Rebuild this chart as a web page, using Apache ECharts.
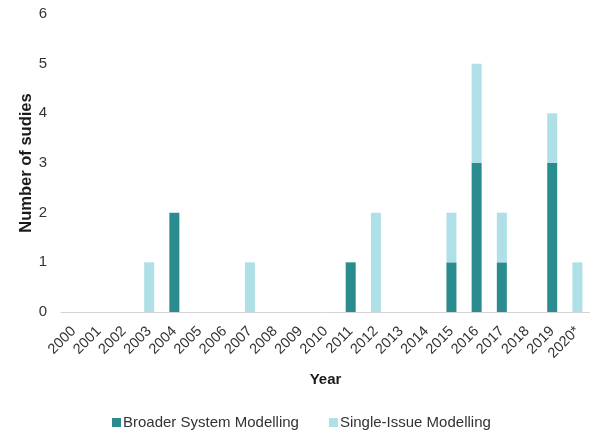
<!DOCTYPE html>
<html>
<head>
<meta charset="utf-8">
<script src="https://cdn.jsdelivr.net/npm/echarts@6/dist/echarts.min.js"></script>
<style>
  html, body { margin: 0; padding: 0; background: #fff; }
  #chart { width: 590px; height: 432px; }
</style>
</head>
<body>
<div id="chart"></div>
<script>
// Studies per year, split by modelling approach
const years = ['2000','2001','2002','2003','2004','2005','2006','2007','2008','2009','2010',
               '2011','2012','2013','2014','2015','2016','2017','2018','2019','2020*'];
const broaderSystem = [0,0,0,0,2,0,0,0,0,0,0,1,0,0,0,1,3,1,0,3,0];
const singleIssue   = [0,0,0,1,0,0,0,1,0,0,0,0,2,0,0,1,2,1,0,1,1];
const yTicks = [0, 1, 2, 3, 4, 5, 6];

const DARK = '#2b8c90';
const LIGHT = '#afe0e7';
const FONT = '"Liberation Sans", Arial, sans-serif';

const chart = echarts.init(document.getElementById('chart'));
chart.setOption({
  animation: false,
  textStyle: { fontFamily: FONT },
  grid: { left: 61, top: 14, width: 533, bottom: 120, containLabel: false },
  xAxis: {
    type: 'category',
    data: years,
    name: 'Year',
    nameLocation: 'middle',
    nameGap: 60,
    nameMoveOverlap: false,
    nameTextStyle: { fontFamily: FONT, fontSize: 15, fontWeight: 'bold', color: '#1a1a1a' },
    axisLine: { lineStyle: { color: '#d4d4d4', width: 1 } },
    axisTick: { show: false },
    axisLabel: { rotate: 45, interval: 0, fontSize: 14.5, color: '#333', margin: 17, fontFamily: FONT }
  },
  yAxis: {
    type: 'value',
    min: yTicks[0],
    max: yTicks[yTicks.length - 1],
    interval: 1,
    name: 'Number of sudies',
    nameLocation: 'middle',
    nameGap: 26,
    nameMoveOverlap: false,
    nameTextStyle: { fontFamily: FONT, fontSize: 16.5, fontWeight: 'bold', color: '#1a1a1a' },
    axisLine: { show: false },
    axisTick: { show: false },
    splitLine: { show: false },
    axisLabel: { fontSize: 15, color: '#333', margin: 14, fontFamily: FONT }
  },
  legend: {
    top: 415,
    left: 112,
    padding: 0,
    itemWidth: 9,
    itemHeight: 9,
    itemGap: 30,
    icon: 'rect',
    textStyle: { fontFamily: FONT, fontSize: 15, color: '#333', padding: [0, 0, 0, -3] },
    data: ['Broader System Modelling', 'Single-Issue Modelling']
  },
  series: [
    {
      name: 'Broader System Modelling',
      type: 'bar',
      stack: 'studies',
      data: broaderSystem,
      barWidth: 10,
      itemStyle: { color: DARK }
    },
    {
      name: 'Single-Issue Modelling',
      type: 'bar',
      stack: 'studies',
      data: singleIssue,
      barWidth: 10,
      itemStyle: { color: LIGHT }
    }
  ]
});
</script>
</body>
</html>
